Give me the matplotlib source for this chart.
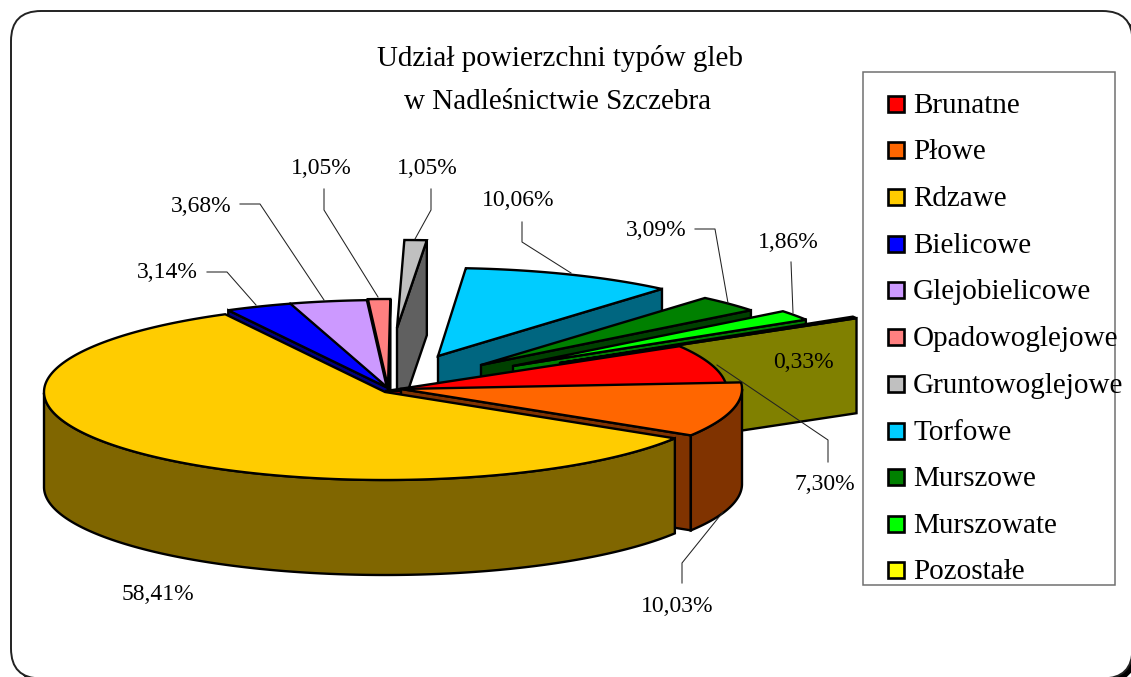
import numpy as np
import matplotlib
matplotlib.use("Agg")
import matplotlib.pyplot as plt
from matplotlib.patches import Polygon, Rectangle, FancyBboxPatch
from matplotlib.colors import to_rgb

title_lines = ["Udział powierzchni typów gleb", "w Nadleśnictwie Szczebra"]
categories = ["Brunatne", "Płowe", "Rdzawe", "Bielicowe", "Glejobielicowe", "Opadowoglejowe",
              "Gruntowoglejowe", "Torfowe", "Murszowe", "Murszowate", "Pozostałe"]
values = [7.30, 10.03, 58.41, 3.14, 3.68, 1.05, 1.05, 10.06, 3.09, 1.86, 0.33]
colors = ["#FF0000", "#FF6600", "#FFCC00", "#0000FF", "#CC99FF", "#FF8080",
          "#C0C0C0", "#00CCFF", "#008000", "#00FF00", "#808000"]
legend_colors = colors[:-1] + ["#FFFF00"]

# layout (pixels)
W, H = 1131, 677
CX, CY, RX, RY, DEPTH = 385, 392, 341, 88, 95
START = 30.6
shifts = [(1, -1), (16, -3), (0, 0), (3, -4), (2, -4), (3, -5), (17, -64),
          (56, -36), (99, -27), (131, -26), (178, -29)]
apex_offset = [0, 0, 0, 0, 0, 0, -5, -3, -3, -3, -3]
draw_order = [7, 8, 9, 10, 6, 5, 4, 3, 0, 1, 2]
label_pos = [(825, 482), (677, 604), (158, 592), (167, 271), (201, 204), (321, 166),
             (427, 166), (518, 199), (656, 229), (788, 240), (803, 360)]
leaders = [[(828, 462), (828, 440), (717, 365)],
           [(682, 583), (682, 563), (723, 512)],
           None,
           [(207, 272), (227, 272), (256, 305)],
           [(240, 204), (260, 204), (324, 300)],
           [(324, 189), (324, 210), (378, 297)],
           [(431, 189), (431, 210), (415, 239)],
           [(522, 222), (522, 242), (571, 273)],
           [(695, 229), (715, 229), (728, 303)],
           [(791, 262), (793, 313)],
           None]
legend_y = [104, 150, 197, 244, 290, 337, 384, 431, 477, 524, 570]

plt.rcParams["font.family"] = ["Liberation Serif", "DejaVu Serif"]
fig = plt.figure(figsize=(W / 100, H / 100), dpi=100, facecolor="white")
ax = fig.add_axes([0, 0, 1, 1])
ax.set_xlim(0, W)
ax.set_ylim(H, 0)
ax.axis("off")

# frame and shadow: both run just past the right and bottom edges of the image
ax.add_patch(FancyBboxPatch((15, 15), 1121.5, 667.5, boxstyle="round,pad=0,rounding_size=30",
                            fc="black", ec="none", zorder=0))
ax.add_patch(FancyBboxPatch((11, 11), 1121.5, 667.5, boxstyle="round,pad=0,rounding_size=30",
                            fc="white", ec="#222222", lw=1.4, zorder=1))

LW = 1.7
z = 2


def pt(a, s, r=1.0):
    t = np.radians(a)
    return CX + s[0] + r * RX * np.cos(t), CY + s[1] - r * RY * np.sin(t)


def face(points, color):
    global z
    ax.add_patch(Polygon(points, closed=True, fc=color, ec="black", lw=LW, joinstyle="miter", zorder=z))
    z += 1


total = sum(values)
ends = START - np.cumsum(values) / total * 360
starts = np.r_[START, ends[:-1]]

for i in draw_order:
    hi, lo, s = starts[i], ends[i], shifts[i]
    top = colors[i]
    dark = "#808000" if i == 10 else tuple(c * 0.5 for c in to_rgb(top))
    a0 = (CX + s[0] + apex_offset[i], CY + s[1])
    # radial cut faces that point towards the viewer
    for ang, normal in ((hi, hi + 90), (lo, lo - 90)):
        if np.sin(np.radians(normal)) < 0:
            p = pt(ang, s)
            face([a0, p, (p[0], p[1] + DEPTH), (a0[0], a0[1] + DEPTH)], dark)
    # outer wall: only the front half of the rim
    aa = np.linspace(lo, hi, 300)
    aa = aa[np.sin(np.radians(aa)) <= 0]
    if len(aa) > 1:
        xy = np.array([pt(a, s) for a in aa])
        face(np.r_[xy, (xy + [0, DEPTH])[::-1]], dark)
    # top
    aa = np.linspace(lo, hi, 200)
    face(np.r_[[a0], [pt(a, s) for a in aa]], top)

# leaders
for pts in leaders:
    if pts:
        ax.plot(*zip(*pts), color="#222222", lw=0.75, zorder=100)

# data labels
for v, (x, y) in zip(values, label_pos):
    ax.text(x, y + 2, f"{v:.2f}%".replace(".", ","), fontsize=17, ha="center", va="center", color="black", zorder=101)

# title
ax.text(560, 59, title_lines[0], fontsize=21, ha="center", va="center", zorder=101)
ax.text(558, 102, title_lines[1], fontsize=21, ha="center", va="center", zorder=101)

# legend
ax.add_patch(Rectangle((863, 72), 252, 513, fc="white", ec="#707070", lw=1.1, zorder=102))
for name, c, y in zip(categories, legend_colors, legend_y):
    ax.add_patch(Rectangle((888, y - 8), 16, 16, fc=c, ec="black", lw=1.9, zorder=103))
    ax.text(913, y + 2, name, fontsize=21, ha="left", va="center", zorder=104)

fig.savefig("out.png", dpi=100)
